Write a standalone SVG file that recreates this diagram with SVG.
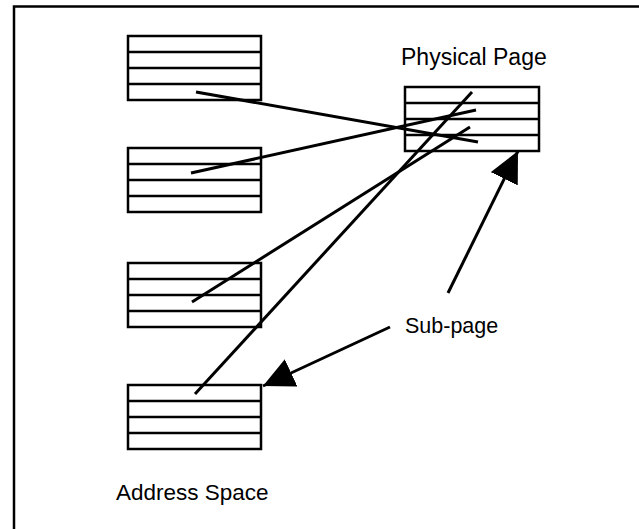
<svg xmlns="http://www.w3.org/2000/svg" width="639" height="529" viewBox="0 0 639 529">
  <style>
    .box rect { fill: #fff; stroke: #000; stroke-width: 2.5; }
    .box line { stroke: #000; stroke-width: 2.5; }
    .conn line { stroke: #000; stroke-width: 3; fill: none; }
    .lbl { font-family: "Liberation Sans", Arial, sans-serif; fill: #000; }
  </style>
  <defs>
    <marker id="ah" viewBox="0 0 31 30" refX="31" refY="15" markerWidth="31" markerHeight="30" markerUnits="userSpaceOnUse" orient="auto">
      <path d="M0,0 L31,15 L0,30 z" fill="#000"/>
    </marker>
  </defs>
  <rect width="639" height="529" fill="#fff"/>
  <path d="M14,529 V6.5 H639" fill="none" stroke="#000" stroke-width="2.5"/>

  <g id="as1" class="box">
    <rect x="128" y="36" width="133" height="64"/>
    <line x1="128" y1="52" x2="261" y2="52"/>
    <line x1="128" y1="68" x2="261" y2="68"/>
    <line x1="128" y1="84" x2="261" y2="84"/>
  </g>
  <g id="as2" class="box">
    <rect x="128" y="148" width="133" height="64"/>
    <line x1="128" y1="164" x2="261" y2="164"/>
    <line x1="128" y1="180" x2="261" y2="180"/>
    <line x1="128" y1="196" x2="261" y2="196"/>
  </g>
  <g id="as3" class="box">
    <rect x="128" y="263" width="133" height="64"/>
    <line x1="128" y1="279" x2="261" y2="279"/>
    <line x1="128" y1="295" x2="261" y2="295"/>
    <line x1="128" y1="311" x2="261" y2="311"/>
  </g>
  <g id="as4" class="box">
    <rect x="128" y="385" width="133" height="64"/>
    <line x1="128" y1="401" x2="261" y2="401"/>
    <line x1="128" y1="417" x2="261" y2="417"/>
    <line x1="128" y1="433" x2="261" y2="433"/>
  </g>
  <g id="pp" class="box">
    <rect x="405" y="87" width="134" height="64"/>
    <line x1="405" y1="103" x2="539" y2="103"/>
    <line x1="405" y1="119" x2="539" y2="119"/>
    <line x1="405" y1="135" x2="539" y2="135"/>
  </g>

  <g id="connectors" class="conn">
    <line x1="196" y1="92" x2="478" y2="142"/>
    <line x1="191" y1="173" x2="476" y2="110"/>
    <line x1="192" y1="302" x2="470" y2="127"/>
    <line x1="195" y1="394" x2="472" y2="92"/>
    <line x1="448" y1="293" x2="518" y2="151" marker-end="url(#ah)"/>
    <line x1="390" y1="327" x2="263" y2="386" marker-end="url(#ah)"/>
  </g>

  <text class="lbl" x="401" y="65" font-size="23">Physical Page</text>
  <text class="lbl" x="405" y="333" font-size="21.5">Sub-page</text>
  <text class="lbl" x="116" y="500" font-size="22.5">Address Space</text>
</svg>
